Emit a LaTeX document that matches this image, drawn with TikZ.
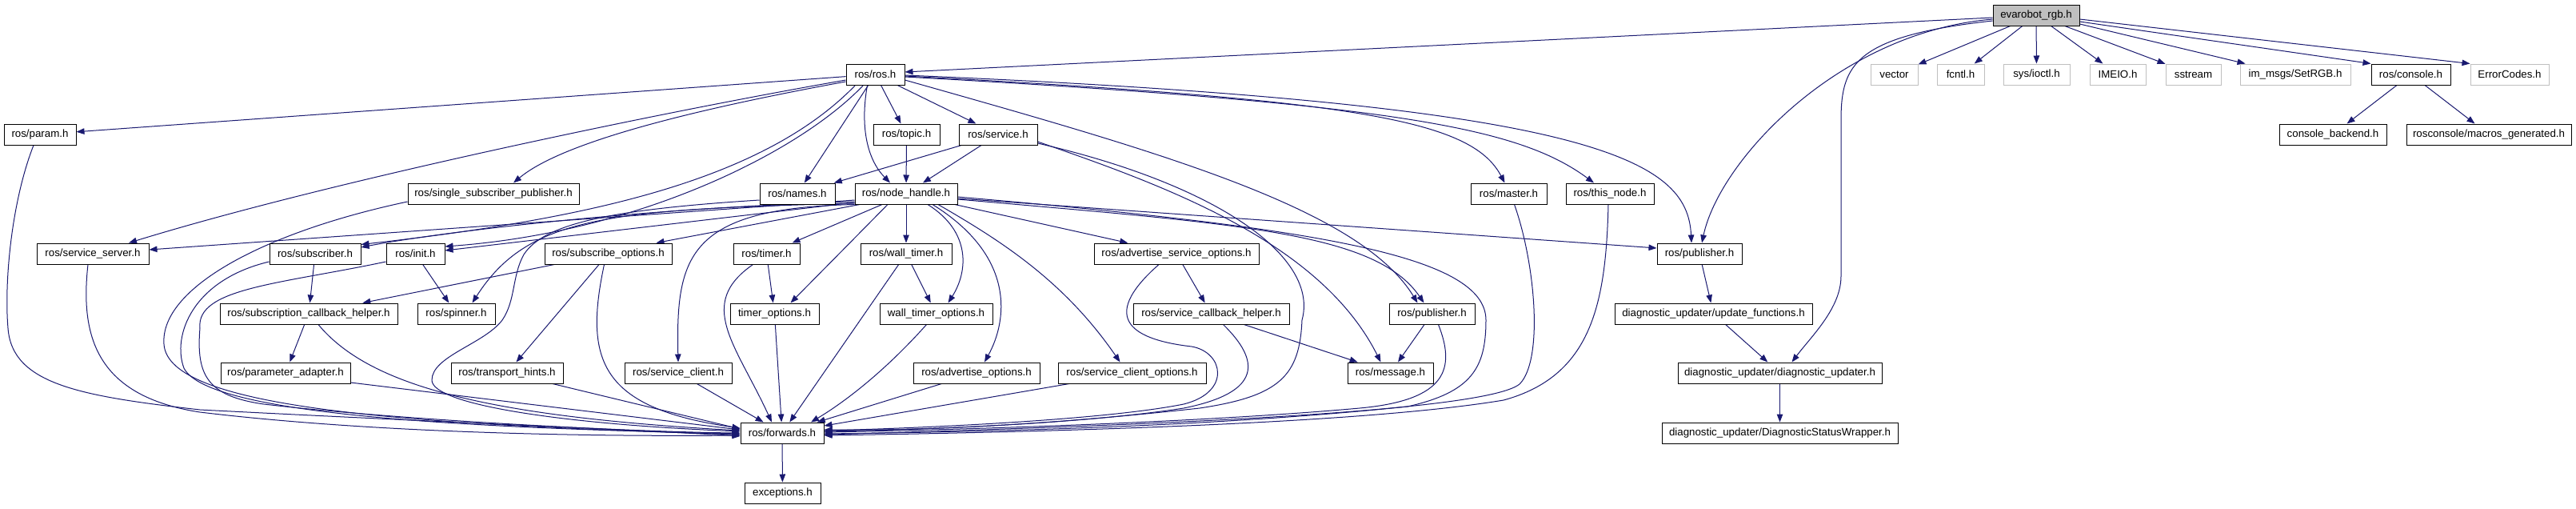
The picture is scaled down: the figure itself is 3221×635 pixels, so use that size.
\documentclass[tikz,border=0pt]{standalone}
\usepackage{fontspec}
\setmainfont{Liberation Sans}
\usetikzlibrary{arrows.meta}
\definecolor{dblue}{HTML}{191970}
\definecolor{lgray}{HTML}{BFBFBF}
\pgfdeclarelayer{background}
\pgfsetlayers{background,main}
\tikzset{
 box/.style={draw=black, line width=1pt, fill=white, minimum height=26pt, inner sep=0pt, font=\fontsize{13.3}{15}\selectfont},
 undoc/.style={draw=lgray},
 rootnode/.style={fill=lgray},
 dep/.style={draw=dblue, line width=1pt, -{Triangle[length=10pt,width=7.5pt]}},
}
\newcommand\mknode[6][]{\node[box,#1,minimum width=#5pt] (#2) at (#3,#4) {#6};}
\begin{document}
\begin{tikzpicture}[x=1pt,y=-1pt]
\useasboundingbox (0,0) rectangle (3221,635);
% nodes
\mknode[rootnode]{evr}{2546}{19}{108}{evarobot\_rgb.h}
\mknode{ros}{1094.5}{93}{73}{ros/ros.h}
\mknode[undoc]{vec}{2368.5}{93}{59}{vector}
\mknode[undoc]{fcn}{2451.5}{93}{59}{fcntl.h}
\mknode[undoc]{ioc}{2546.5}{93}{83}{sys/ioctl.h}
\mknode[undoc]{ime}{2648}{93}{70}{IMEIO.h}
\mknode[undoc]{sst}{2742.5}{93}{69}{sstream}
\mknode[undoc]{srgb}{2870}{93}{138}{im\_msgs/SetRGB.h}
\mknode{con}{3014.5}{93}{99}{ros/console.h}
\mknode[undoc]{err}{3138}{93}{98}{ErrorCodes.h}
\mknode{par}{50}{168}{90}{ros/param.h}
\mknode{top}{1133.5}{168}{83}{ros/topic.h}
\mknode{srv}{1248}{168}{98}{ros/service.h}
\mknode{cbk}{2917}{168}{134}{console\_backend.h}
\mknode{mac}{3112}{168}{206}{rosconsole/macros\_generated.h}
\mknode{ssp}{617}{242}{214}{ros/single\_subscriber\_publisher.h}
\mknode{nam}{997}{242}{94}{ros/names.h}
\mknode{nh}{1133}{242}{128}{ros/node\_handle.h}
\mknode{mas}{1886.5}{242}{95}{ros/master.h}
\mknode{thn}{2013}{242}{110}{ros/this\_node.h}
\mknode{ssv}{116}{317}{140}{ros/service\_server.h}
\mknode{sub}{394}{317}{114}{ros/subscriber.h}
\mknode{ini}{519.5}{317}{73}{ros/init.h}
\mknode{sop}{760.5}{317}{159}{ros/subscribe\_options.h}
\mknode{tim}{958.5}{317}{83}{ros/timer.h}
\mknode{wtm}{1133}{317}{114}{ros/wall\_timer.h}
\mknode{aso}{1471}{317}{206}{ros/advertise\_service\_options.h}
\mknode{puba}{2125}{317}{106}{ros/publisher.h}
\mknode{sch}{386}{392}{222}{ros/subscription\_callback\_helper.h}
\mknode{spn}{570.5}{392}{97}{ros/spinner.h}
\mknode{tmo}{968.5}{392}{111}{timer\_options.h}
\mknode{wto}{1170.5}{392}{141}{wall\_timer\_options.h}
\mknode{scb}{1514.5}{392}{195}{ros/service\_callback\_helper.h}
\mknode{pubb}{1790.5}{392}{107}{ros/publisher.h}
\mknode{upf}{2142.5}{392}{247}{diagnostic\_updater/update\_functions.h}
\mknode{pad}{357}{466}{162}{ros/parameter\_adapter.h}
\mknode{thi}{634}{466}{140}{ros/transport\_hints.h}
\mknode{scl}{848}{466}{134}{ros/service\_client.h}
\mknode{ado}{1221}{466}{158}{ros/advertise\_options.h}
\mknode{sco}{1415.5}{466}{185}{ros/service\_client\_options.h}
\mknode{msg}{1738.5}{466}{107}{ros/message.h}
\mknode{dup}{2225.5}{466}{255}{diagnostic\_updater/diagnostic\_updater.h}
\mknode{fwd}{978}{541}{104}{ros/forwards.h}
\mknode{dsw}{2225.5}{541}{295}{diagnostic\_updater/DiagnosticStatusWrapper.h}
\mknode{exc}{978.5}{616}{95}{exceptions.h}
\begin{pgfonlayer}{background}
\fill[white] (0,0) rectangle (3221,635);
% evarobot_rgb.h
\draw[dep] ([yshift=-3pt]evr.west) -- ([yshift=3pt]ros.east);
\draw[dep] (evr) -- (vec);
\draw[dep] (evr) -- (fcn);
\draw[dep] (evr) -- (ioc);
\draw[dep] (evr) -- (ime);
\draw[dep] (evr) -- (sst);
\draw[dep] ([yshift=-11pt]evr.east) -- ([xshift=7pt]srgb.north west);
\draw[dep] ([yshift=-8pt]evr.east) -- (con.north west);
\draw[dep] ([yshift=-5pt]evr.east) -- (err.north west);
\draw[dep] ([yshift=-5pt]evr.west) .. controls (2300,40) and (2150,200) .. ([xshift=3pt]puba.north);
\draw[dep] ([yshift=-7pt]evr.west) .. controls (2320,45) and (2302,80) .. (2302,150) -- (2302,345) .. controls (2302,385) and (2265,420) .. ([xshift=15pt]dup.north);
\draw[dep] (con) -- (cbk);
\draw[dep] (con) -- (mac);
% ros/ros.h
\draw[dep] (ros) -- (par);
\draw[dep] (ros) -- (top);
\draw[dep] (ros) -- (srv);
\draw[dep] (ros) -- (nam);
\draw[dep] ([xshift=-10pt]ros.south) .. controls (1075,160) and (1085,200) .. ([xshift=-20pt]nh.north);
\draw[dep] ([yshift=-7pt]ros.west) .. controls (800,145) and (400,230) .. ([xshift=45pt]ssv.north);
\draw[dep] ([yshift=-9pt]ros.west) .. controls (850,140) and (700,180) .. ([xshift=25pt]ssp.north);
\draw[dep] ([xshift=-25pt]ros.south) .. controls (950,230) and (720,275) .. ([yshift=-2pt]sub.north east);
\draw[dep] ([xshift=-15pt]ros.south) .. controls (1000,190) and (800,290) .. ([yshift=9pt]ini.east);
\draw[dep] ([yshift=-2pt]ros.east) .. controls (1700,125) and (1840,150) .. ([xshift=-5pt]mas.north);
\draw[dep] ([yshift=-3pt]ros.east) .. controls (1750,130) and (1900,160) .. ([xshift=-20pt]thn.north);
\draw[dep] ([yshift=-1pt]ros.east) .. controls (2000,130) and (2110,200) .. ([xshift=-10pt]puba.north);
\draw[dep] ([yshift=-7pt]ros.east) .. controls (1450,190) and (1700,260) .. ([xshift=-18pt]pubb.north);
% ros/service.h, ros/topic.h
\draw[dep] (srv) -- (nam);
\draw[dep] (srv) -- (nh);
\draw[dep] (top) -- (nh);
\draw[dep] ([yshift=-9pt]srv.east) .. controls (1450,230) and (1650,300) .. ([xshift=-12pt]msg.north);
\draw[dep] ([yshift=-11pt]srv.east) .. controls (1520,230) and (1650,320) .. (1628,400) .. controls (1625,470) and (1600,495) .. (1500,510) .. controls (1300,532) and (1150,538) .. ([yshift=4pt]fwd.east);
% ros/node_handle.h
\draw[dep] ([yshift=-8pt]nh.west) -- ([yshift=5pt]ssv.east);
\draw[dep] ([yshift=-10pt]nh.west) .. controls (800,260) and (550,290) .. ([yshift=8pt]sub.east);
\draw[dep] ([yshift=-11pt]nh.west) -- ([yshift=4pt]ini.east);
\draw[dep] ([yshift=-12pt]nh.west) .. controls (760,262) and (660,270) .. ([xshift=20pt]spn.north);
\draw[dep] ([xshift=-58pt]nh.south) -- ([xshift=60pt]sop.north);
\draw[dep] ([xshift=-30pt]nh.south) -- ([xshift=32pt]tim.north);
\draw[dep] ([xshift=-23pt]nh.south) -- ([xshift=20pt]tmo.north);
\draw[dep] (nh) -- (wtm);
\draw[dep] ([xshift=27pt]nh.south) .. controls (1215,290) and (1210,340) .. ([xshift=15pt]wto.north);
\draw[dep] ([xshift=33pt]nh.south) .. controls (1270,320) and (1260,400) .. ([xshift=10pt]ado.north);
\draw[dep] ([xshift=40pt]nh.south) .. controls (1250,300) and (1330,350) .. ([xshift=-15pt]sco.north);
\draw[dep] (nh.south west) .. controls (860,260) and (845,320) .. (scl.north);
\draw[dep] (nh) -- (aso);
\draw[dep] ([yshift=-6pt]nh.east) -- ([yshift=7pt]puba.west);
\draw[dep] ([yshift=-7pt]nh.east) .. controls (1550,280) and (1720,290) .. ([xshift=-10pt]pubb.north);
\draw[dep] ([yshift=-4pt]nh.east) .. controls (1650,285) and (1858,320) .. (1858,400) .. controls (1858,460) and (1840,490) .. (1760,508) .. controls (1500,535) and (1200,540) .. ([yshift=-1pt]fwd.east);
% ros/names.h
\draw[dep] ([yshift=-8pt]nam.west) .. controls (760,262) and (680,280) .. (655,318) .. controls (640,345) and (645,375) .. (628,400) .. controls (605,430) and (540,445) .. (540,475) .. controls (540,505) and (700,530) .. ([yshift=2pt]fwd.west);
% left column
\draw[dep] ([xshift=-8pt]par.south) .. controls (15,250) and (5,350) .. (10,410) .. controls (15,480) and (100,495) .. (250,512) .. controls (600,530) and (800,537) .. ([yshift=-4pt]fwd.west);
\draw[dep] ([xshift=-6pt]ssv.south) .. controls (100,420) and (120,495) .. (250,515) .. controls (500,545) and (800,545) .. ([yshift=-3pt]fwd.west);
\draw[dep] ([yshift=-10pt]ssp.west) .. controls (330,290) and (200,360) .. (205,430) .. controls (210,510) and (500,530) .. ([yshift=-2pt]fwd.west);
\draw[dep] ([yshift=-10pt]sub.west) .. controls (240,350) and (215,420) .. (230,460) .. controls (260,520) and (600,535) .. ([yshift=-1pt]fwd.west);
\draw[dep] ([yshift=-10pt]ini.west) .. controls (350,355) and (245,360) .. (250,410) .. controls (245,470) and (260,495) .. (330,505) .. controls (500,525) and (800,540) .. (fwd.west);
\draw[dep] ([xshift=12pt]sch.south) .. controls (460,480) and (600,520) .. ([yshift=3pt]fwd.west);
\draw[dep] (sch) -- (pad);
\draw[dep] (sub) -- (sch);
\draw[dep] (sop) -- (sch);
\draw[dep] (ini) -- (spn);
\draw[dep] (sop) -- (thi);
\draw[dep] ([xshift=-5pt]sop.south) .. controls (730,450) and (750,510) .. ([yshift=6pt]fwd.west);
\draw[dep] ([yshift=-12pt]pad.east) -- ([yshift=4pt]fwd.west);
\draw[dep] ([xshift=57pt]thi.south) -- ([yshift=5pt]fwd.west);
\draw[dep] (scl) -- (fwd);
% timers
\draw[dep] (tim) -- (tmo);
\draw[dep] ([xshift=-17pt]tim.south) .. controls (870,380) and (920,430) .. ([xshift=-13pt]fwd.north);
\draw[dep] (tmo) -- (fwd);
\draw[dep] (wtm) -- (wto);
\draw[dep] (wtm) -- (fwd);
\draw[dep] ([xshift=-12pt]wto.south) .. controls (1110,460) and (1060,500) .. ([xshift=36pt]fwd.north);
\draw[dep] (ado) -- (fwd);
\draw[dep] (sco) -- (fwd);
% services / publishers
\draw[dep] (aso) -- (scb);
\draw[dep] ([xshift=-22pt]aso.south) .. controls (1370,400) and (1420,425) .. (1490,433) .. controls (1530,440) and (1540,490) .. (1480,505) .. controls (1380,525) and (1150,535) .. ([yshift=3pt]fwd.east);
\draw[dep] (scb) -- (msg);
\draw[dep] ([xshift=15pt]scb.south) .. controls (1575,450) and (1580,490) .. (1480,510) .. controls (1350,530) and (1150,537) .. ([yshift=2pt]fwd.east);
\draw[dep] (pubb) -- (msg);
\draw[dep] ([xshift=8pt]pubb.south) .. controls (1820,460) and (1810,500) .. (1700,510) .. controls (1500,528) and (1200,537) .. ([yshift=1pt]fwd.east);
\draw[dep] ([xshift=7pt]mas.south) .. controls (1920,330) and (1930,450) .. (1900,480) .. controls (1850,520) and (1300,535) .. ([yshift=-2pt]fwd.east);
\draw[dep] ([xshift=-2pt]thn.south) .. controls (2008,380) and (1990,470) .. (1880,500) .. controls (1700,530) and (1300,540) .. ([yshift=-3pt]fwd.east);
\draw[dep] (fwd) -- (exc);
% diagnostic_updater
\draw[dep] (puba) -- (upf);
\draw[dep] (upf) -- (dup);
\draw[dep] (dup) -- (dsw);
\end{pgfonlayer}
\end{tikzpicture}
\end{document}
